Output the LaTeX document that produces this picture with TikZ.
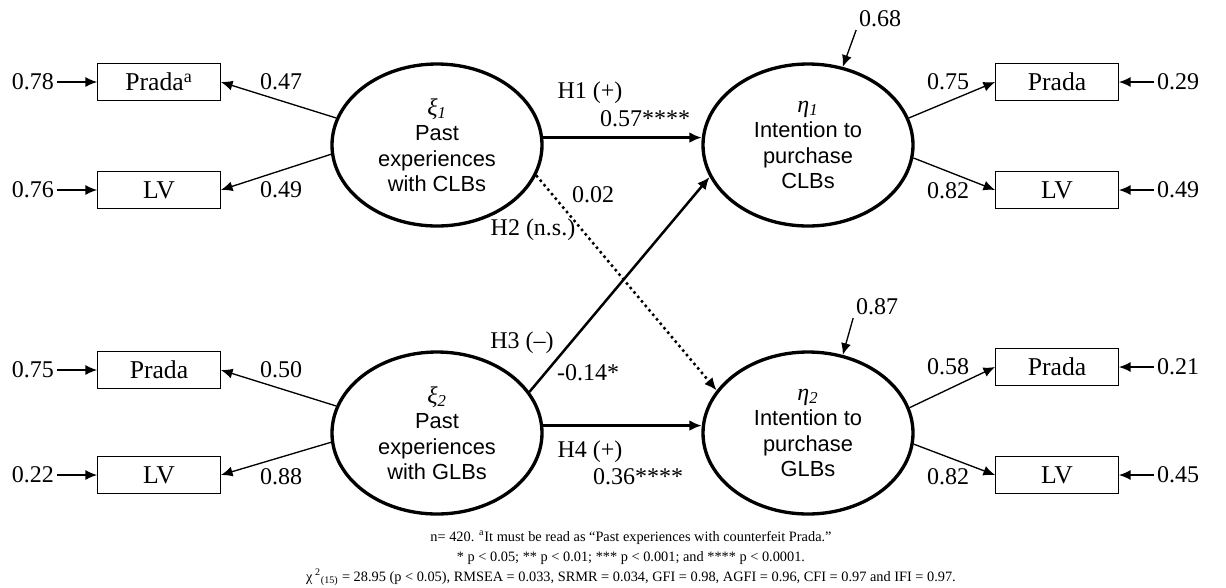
\documentclass[tikz,border=0pt]{standalone}
\usepackage{fontspec}
\setmainfont{Liberation Serif}
\setsansfont{Liberation Sans}
\usepackage{tikz}
\usetikzlibrary{shapes,arrows.meta}
\tikzstyle{block} = [rectangle, draw, line width=0.8pt, minimum width=73.5pt, minimum height=21.9pt, inner sep=0pt, font=\fontsize{15.4}{18}\selectfont]
\tikzstyle{latent} = [ellipse, draw, line width=2pt, minimum width=126pt, minimum height=97.2pt, inner sep=0pt, align=center, font=\sffamily\fontsize{13.1}{15.3}\selectfont]
\tikzstyle{coef} = [inner sep=1.5pt, font=\fontsize{14.4}{17}\selectfont]
\tikzstyle{line} = [draw, line width=0.8pt, -{Latex[length=7pt,width=6pt]}]
\tikzstyle{effect} = [draw, line width=1.5pt, -{Latex[length=7.5pt,width=6.5pt]}]
\tikzstyle{nseffect} = [effect, dash pattern=on 1.5pt off 2pt]
\newcommand{\grk}[2]{{\rmfamily\fontsize{14.4}{15.3}\selectfont\textit{#1}\textsubscript{\textit{#2}}}}

\begin{document}
\begin{tikzpicture}[x=0.6pt,y=-0.6pt]
\useasboundingbox (0,0) rectangle (1226,587);

% latent variables
\node [latent] (x1) at (437,145) {\grk{ξ}{1}\\Past\\experiences\\with CLBs};
\node [latent] (x2) at (437,433) {\grk{ξ}{2}\\Past\\experiences\\with GLBs};
\node [latent] (y1) at (808,145) {\grk{η}{1}\\Intention to\\purchase\\CLBs};
\node [latent] (y2) at (808,433) {\grk{η}{2}\\Intention to\\purchase\\GLBs};

% indicators, left
\node [block] (px1) at (159,82) {Prada\textsuperscript{a}};
\node [block] (lx1) at (159,190) {LV};
\node [block] (px2) at (159,370) {Prada};
\node [block] (lx2) at (159,475) {LV};
\node [coef] (epx1) at (33,82) {0.78};
\node [coef] (elx1) at (33,190) {0.76};
\node [coef] (epx2) at (33,370) {0.75};
\node [coef] (elx2) at (33,475) {0.22};
\path [line] (epx1) -- (px1);
\path [line] (elx1) -- (lx1);
\path [line] (epx2) -- (px2);
\path [line] (elx2) -- (lx2);
\path [line] (x1.165) -- (px1.east);
\path [line] (x1.185) -- (lx1.east);
\path [line] (x2.165) -- (px2.east);
\path [line] (x2.185) -- (lx2.east);
\node [coef] at (281,82) {0.47};
\node [coef] at (281,190) {0.49};
\node [coef] at (281,370) {0.50};
\node [coef] at (281,477) {0.88};

% indicators, right
\node [block] (py1) at (1057,82) {Prada};
\node [block] (ly1) at (1057,190) {LV};
\node [block] (py2) at (1057,367) {Prada};
\node [block] (ly2) at (1057,475) {LV};
\node [coef] (epy1) at (1178,82) {0.29};
\node [coef] (ely1) at (1178,190) {0.49};
\node [coef] (epy2) at (1178,367) {0.21};
\node [coef] (ely2) at (1178,475) {0.45};
\path [line] (epy1) -- (py1);
\path [line] (ely1) -- (ly1);
\path [line] (epy2) -- (py2);
\path [line] (ely2) -- (ly2);
\path [line] (y1.15) -- (py1.west);
\path [line] (y1.-7) -- (ly1.west);
\path [line] (y2.14) -- (py2.west);
\path [line] (y2.-6) -- (ly2.west);
\node [coef] at (948,82) {0.75};
\node [coef] at (948,191) {0.82};
\node [coef] at (948,367) {0.58};
\node [coef] at (948,477) {0.82};

% disturbances
\node [coef] (dy1) at (880,19) {0.68};
\node [coef] (dy2) at (877,307) {0.87};
\path [line] (dy1.south west) -- (y1.66);
\path [line] (dy2.south west) -- (y2.66);

% structural paths
\path [effect] (x1.4) -- (y1.176);
\path [effect] (x2.4) -- (y2.176);
\path [effect] (x2.24) -- (y1.198);
\path [nseffect] (x1.-17) -- (y2.155);
\node [coef] at (590,93) {H1 (+)};
\node [coef] at (645,119) {0.57****};
\node [coef] at (593,195) {0.02};
\node [coef] at (533,230) {H2 (n.s.)};
\node [coef] at (522,343) {H3 (--)};
\node [coef] at (588,373) {-0.14*};
\node [coef] at (590,452) {H4 (+)};
\node [coef] at (638,477) {0.36****};

% notes
\node [align=center, inner sep=0pt, font=\fontsize{8.6}{12}\selectfont] (notes) at (631,558)
  {n= 420. \textsuperscript{a}It must be read as “Past experiences with counterfeit Prada.”\\
   * p < 0.05; ** p < 0.01; *** p < 0.001; and **** p < 0.0001.\\
   χ\textsuperscript{ 2}\textsubscript{(15)} = 28.95 (p < 0.05), RMSEA = 0.033, SRMR = 0.034, GFI = 0.98, AGFI = 0.96, CFI = 0.97 and IFI = 0.97.};
\end{tikzpicture}
\end{document}
